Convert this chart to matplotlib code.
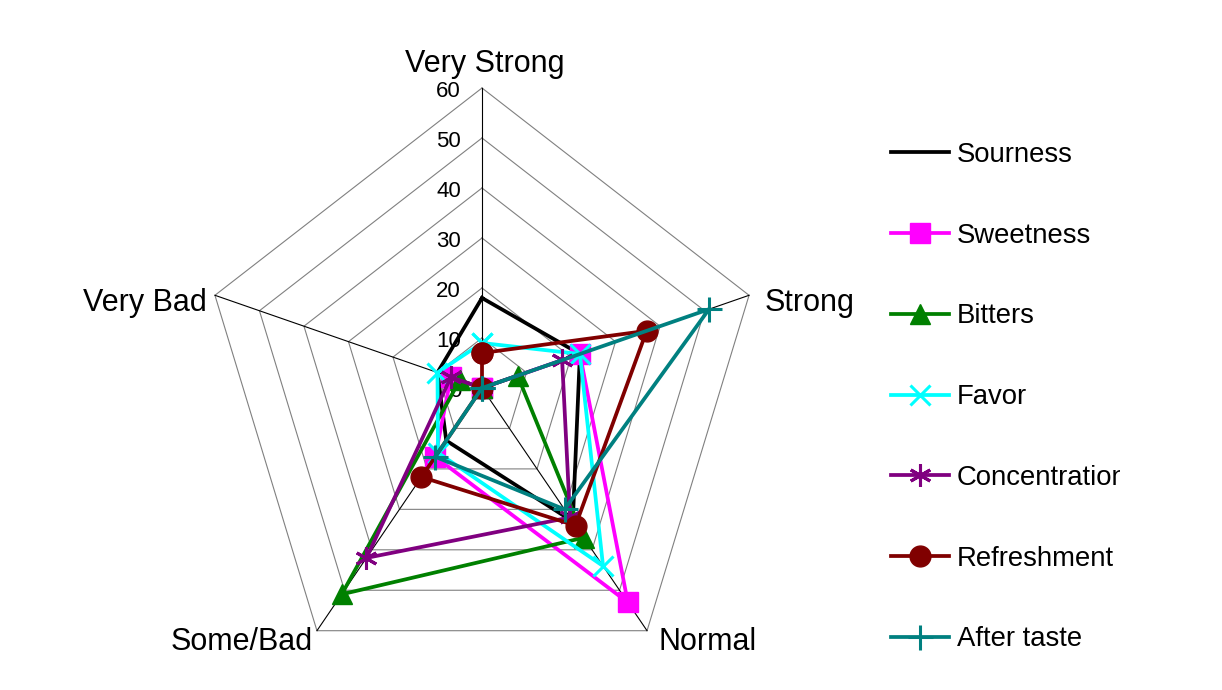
import numpy as np
import matplotlib
matplotlib.use("Agg")
import matplotlib.pyplot as plt
from matplotlib.transforms import Bbox, TransformedBbox

plt.rcParams['font.family'] = ['Liberation Sans', 'DejaVu Sans']

categories = ["Very Strong", "Strong", "Normal", "Some/Bad", "Very Bad"]
series_names = ["Sourness", "Sweetness", "Bitters", "Favor",
                "Concentration", "Refreshment", "After taste"]
sourness      = [18, 22, 33, 13, 10]
sweetness     = [0, 22, 53, 17, 7]
bitters       = [0, 8, 37, 51, 5]
favor         = [9, 22, 44, 16, 10]
concentration = [0, 18, 32, 42, 7]
refreshment   = [7, 37, 34, 22, 0]
after_taste   = [0, 51, 30, 17, 0]
tick_values   = [0, 10, 20, 30, 40, 50, 60]

series_values = [sourness, sweetness, bitters, favor,
                 concentration, refreshment, after_taste]
colors = ["#000000", "#FF00FF", "#008000", "#00FFFF",
          "#800080", "#800000", "#008080"]
markers = [None, "s", "^", "x", (6, 2, 0), "o", "+"]
msizes = [0, 14, 15, 15, 16, 15, 18]

W, H = 1222, 690
fig = plt.figure(figsize=(W / 100, H / 100), dpi=100)
ax = fig.add_axes([0, 0, 1, 1])
ax.set_axis_off()

cx, cy = 482, 388          # centre in pixels (from top)
sy, sx = 5.0, 4.68         # pixels per unit
ax.set_xlim(-cx / sx, (W - cx) / sx)
ax.set_ylim(-(H - cy) / sy, cy / sy)

n = len(categories)
theta = np.deg2rad(90 - 72 * np.arange(n))
ux, uy = np.cos(theta), np.sin(theta)

# grid pentagons
for v in tick_values[1:]:
    xs = np.append(v * ux, v * ux[0])
    ys = np.append(v * uy, v * uy[0])
    ax.plot(xs, ys, color="#808080", lw=0.8, zorder=1)
# spokes
rmax = tick_values[-1]
for k in range(n):
    ax.plot([0, rmax * ux[k]], [0, rmax * uy[k]], color="#000000", lw=0.8, zorder=1)

# tick labels
for v in tick_values:
    ax.text(-21 / sx, v - 0.7, str(v), ha="right", va="center", fontsize=16, color="black")

# category labels
lab_pos = [(0.6, 64.8, "center", "center"),
           (61.5 * ux[1] + 1.8, 60.0 * uy[1] - 1.6, "left", "center"),
           (61.5 * ux[2] + 1.5, 61.5 * uy[2] - 1.0, "left", "center"),
           (61.5 * ux[3] - 0.1, 61.5 * uy[3] - 1.0, "right", "center"),
           (61.5 * ux[4] - 0.4, 60.0 * uy[4] - 1.6, "right", "center")]
for (x, y, ha, va), c in zip(lab_pos, categories):
    ax.text(x, y, c, ha=ha, va=va, fontsize=22, color="black")

handles = []
for name, vals, col, mk, ms in zip(series_names, series_values, colors, markers, msizes):
    r = np.array(vals + vals[:1], dtype=float)
    th = np.append(theta, theta[0])
    kw = dict(color=col, lw=2.7, zorder=3, label=name)
    if mk is not None:
        kw.update(marker=mk, markersize=ms, markerfacecolor=col, markeredgecolor=col,
                  markeredgewidth=2.2 if mk in ("x", "+") or isinstance(mk, tuple) else 1)
    h, = ax.plot(r * np.cos(th), r * np.sin(th), **kw)
    handles.append(h)

leg = fig.legend(handles=handles, loc="upper left", bbox_to_anchor=(891 / W, 1 - 142 / H),
                 frameon=False, fontsize=19.8, handlelength=2.1, handletextpad=0.3,
                 labelspacing=1.99, borderaxespad=0, borderpad=0)
clip = TransformedBbox(Bbox([[0, 0], [1120 / W, 1]]), fig.transFigure)
for t in leg.get_texts():
    t.set_clip_on(True)
    t.set_clip_box(clip)

fig.savefig("out.png", dpi=100)
